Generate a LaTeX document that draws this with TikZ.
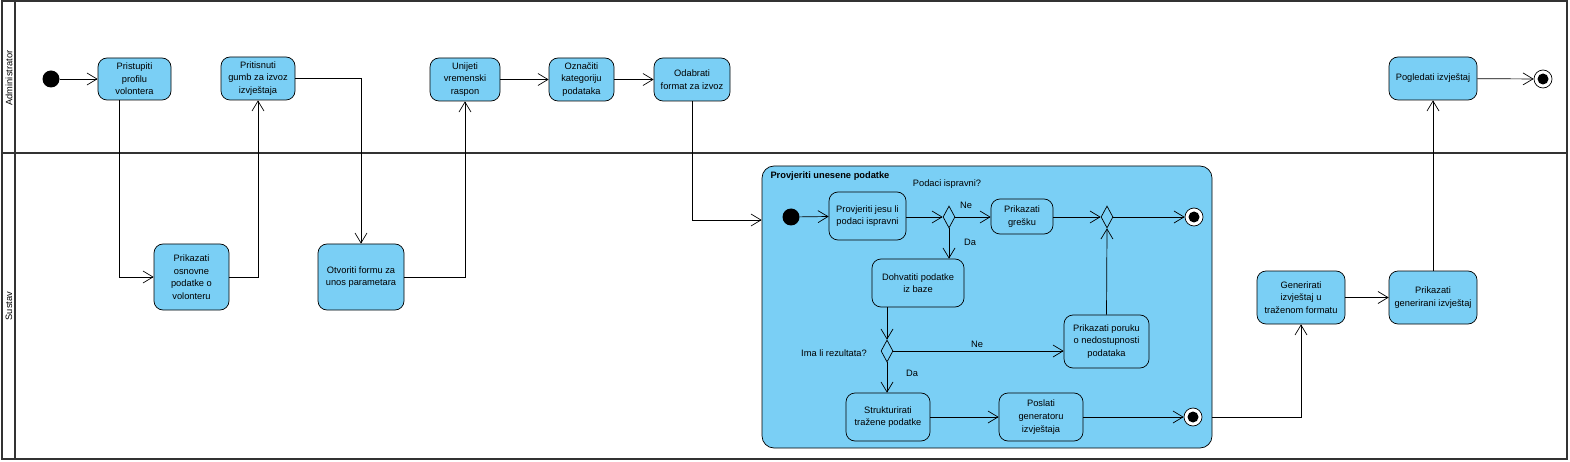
\documentclass[tikz,border=0pt]{standalone}
\usepackage{fontspec}
\setmainfont{Liberation Sans}
\usetikzlibrary{arrows.meta,shapes.geometric}

\definecolor{aktblue}{HTML}{7ACFF5}
\definecolor{lanegray}{HTML}{333333}

\tikzset{
    akt/.style={draw, fill=aktblue, rounded corners=9pt, align=center, inner sep=1pt, line width=0.7pt},
    subakt/.style={draw, fill=aktblue, rounded corners=12pt, line width=0.7pt},
    startnode/.style={circle, fill=black, minimum size=17pt, inner sep=0pt},
    endnode/.style={circle, draw, fill=white, minimum size=18pt, inner sep=0pt, line width=0.7pt,
        path picture={\fill[black] (path picture bounding box.center) circle (5.5pt);}},
    odluka/.style={diamond, draw, fill=aktblue, minimum width=12pt, minimum height=22pt, inner sep=0pt, line width=0.7pt},
    tok/.style={line width=0.7pt, -{Straight Barb[length=10pt,width=12pt,line width=0.7pt]}},
    lane/.style={draw=lanegray, line width=2pt}
}

\begin{document}
\begin{tikzpicture}[x=1pt, y=-1pt, font=\fontsize{9.3}{12.6}\selectfont]
    \useasboundingbox (0,0) rectangle (1570,462);

    \draw[lane] (1.5,1.5) rectangle (1566.5,459);
    \draw[lane] (15,1.5) -- (15,459);
    \draw[lane] (1.5,153) -- (1566.5,153);
    \node[rotate=90] (laneAdmin) at (9,78) {Administrator};
    \node[rotate=90] (laneSustav) at (9,306) {Sustav};

    \node[subakt, minimum width=450pt, minimum height=282pt] (sub) at (987,307) {};
    \node[anchor=west, font=\fontsize{9.3}{12.6}\selectfont\bfseries] (subTitle) at (767,176) {Provjeriti unesene podatke};

    \node[startnode] (start1) at (51,79) {};
    \node[akt, minimum width=73pt, minimum height=42pt] (pristupiti) at (134.5,79) {Pristupiti\\profilu\\volontera};
    \node[akt, minimum width=74pt, minimum height=43pt] (pritisnuti) at (258,78.5) {Pritisnuti\\gumb za izvoz\\izvještaja};
    \node[akt, minimum width=70pt, minimum height=43pt] (unijeti) at (465,79.5) {Unijeti\\vremenski\\raspon};
    \node[akt, minimum width=65pt, minimum height=43pt] (oznaciti) at (581.5,79.5) {Označiti\\kategoriju\\podataka};
    \node[akt, minimum width=76pt, minimum height=43pt] (odabrati) at (692,79.5) {Odabrati\\format za izvoz};
    \node[akt, minimum width=88pt, minimum height=43pt] (pogledati) at (1433,78.5) {Pogledati izvještaj};
    \node[endnode] (end1) at (1543,79) {};

    \node[akt, minimum width=75pt, minimum height=66pt] (prikOsnovne) at (191.5,277) {Prikazati\\osnovne\\podatke o\\volonteru};
    \node[akt, minimum width=86pt, minimum height=66pt] (otvoriti) at (361,277) {Otvoriti formu za\\unos parametara};
    \node[akt, minimum width=88pt, minimum height=53pt] (generirati) at (1301,297.5) {Generirati\\izvještaj u\\traženom formatu};
    \node[akt, minimum width=88pt, minimum height=53pt] (prikGenerirani) at (1433,297.5) {Prikazati\\generirani izvještaj};

    \node[startnode] (start2) at (791,217) {};
    \node[akt, minimum width=77pt, minimum height=48pt] (provjeriti) at (867.5,216) {Provjeriti jesu li\\podaci ispravni};
    \node[odluka] (odluka1) at (949,217) {};
    \node[akt, minimum width=62pt, minimum height=35pt] (greska) at (1022,216.5) {Prikazati\\grešku};
    \node[odluka] (spoj) at (1107,217) {};
    \node[endnode] (end2) at (1194,217) {};
    \node[akt, minimum width=92pt, minimum height=48pt] (dohvatiti) at (918,283) {Dohvatiti podatke\\iz baze};
    \node[odluka] (odluka2) at (887,351) {};
    \node[akt, minimum width=85pt, minimum height=53pt] (poruka) at (1106.5,341.5) {Prikazati poruku\\o nedostupnosti\\podataka};
    \node[akt, minimum width=84pt, minimum height=48pt] (strukturirati) at (888,417) {Strukturirati\\tražene podatke};
    \node[akt, minimum width=84pt, minimum height=48pt] (poslati) at (1041,417) {Poslati\\generatoru\\izvještaja};
    \node[endnode] (end3) at (1193,417) {};

    \node (lblPodaci) at (947,184) {Podaci ispravni?};
    \node (lblNe1) at (966,205) {Ne};
    \node (lblDa1) at (970,242) {Da};
    \node (lblIma) at (834,353) {Ima li rezultata?};
    \node (lblNe2) at (977,344) {Ne};
    \node (lblDa2) at (912,373) {Da};

    \draw[tok] (start1) -- (pristupiti);
    \draw[tok] ([xshift=-15.5pt]pristupiti.south) |- (prikOsnovne.west);
    \draw[tok] (prikOsnovne.east) -| (pritisnuti.south);
    \draw[tok] (pritisnuti.east) -| (otvoriti.north);
    \draw[tok] (otvoriti.east) -| (unijeti.south);
    \draw[tok] (unijeti) -- (oznaciti);
    \draw[tok] (oznaciti) -- (odabrati);
    \draw[tok] (odabrati.south) |- ([yshift=-3pt]sub.west |- start2);

    \draw[tok] (start2) -- (provjeriti);
    \draw[tok] (provjeriti.east |- odluka1) -- (odluka1.west);
    \draw[tok] (odluka1.east) -- (greska.west |- odluka1);
    \draw[tok] (greska.east |- spoj) -- (spoj.west);
    \draw[tok] (spoj.east) -- (end2);
    \draw[tok] (odluka1.south) -- (odluka1.south |- dohvatiti.north);
    \draw[tok] (odluka2.north |- dohvatiti.south) -- (odluka2.north);
    \draw[tok] (odluka2.east) -- (odluka2.east -| poruka.west);
    \draw[tok] (odluka2.south) -- (odluka2.south |- strukturirati.north);
    \draw[tok] (poruka.north) -- (spoj.south);
    \draw[tok] (strukturirati) -- (poslati);
    \draw[tok] (poslati) -- (end3);

    \draw[tok] (sub.east |- end3) -| (generirati.south);
    \draw[tok] (generirati) -- (prikGenerirani);
    \draw[tok] (prikGenerirani.north) -- (pogledati.south);
    \draw[tok] (pogledati) -- (end1);
\end{tikzpicture}
\end{document}
